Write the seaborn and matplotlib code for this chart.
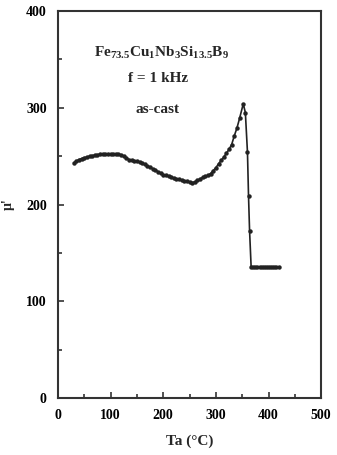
import matplotlib
matplotlib.use("Agg")
import matplotlib.pyplot as plt
import seaborn as sns
import pandas as pd
from matplotlib.ticker import MultipleLocator

sns.set_style("ticks")
plt.rcParams['font.family'] = ['Liberation Serif', 'DejaVu Serif']
plt.rcParams['font.weight'] = 'bold'
plt.rcParams['mathtext.fontset'] = 'custom'
plt.rcParams['mathtext.rm'] = 'Liberation Serif:bold'
plt.rcParams['mathtext.it'] = 'Liberation Serif:bold'
plt.rcParams['mathtext.bf'] = 'Liberation Serif:bold'

temps = [30, 35, 40, 45, 50, 55, 60, 65, 70, 75, 80, 85, 90, 95, 100, 105, 110, 115,
         120, 125, 130, 135, 140, 145, 150, 155, 160, 165, 170, 175, 180, 185, 190, 195,
         200, 205, 210, 215, 220, 225, 230, 235, 240, 245, 250, 255, 260, 265, 270, 275,
         280, 285, 290, 295, 300, 305, 310, 315, 320, 325, 330, 335, 340, 345, 352, 356,
         360, 362, 364, 367, 371, 375, 379, 383, 387, 391, 395, 399, 403, 407, 411, 415, 420]
mu = [243, 245, 246.5, 247.5, 248.5, 249, 250, 250.5, 251, 251.5, 252, 252, 252, 252, 252, 252, 252, 252,
      251.5, 250, 248, 246.5, 245.5, 245, 244.5, 244, 243, 241.5, 240, 238.5, 237, 235.5, 234, 232.5,
      231, 230, 229, 228, 227, 226.5, 226, 225, 224.5, 224, 223, 222.5, 223.5, 225, 226.5, 228,
      229, 230, 232, 235, 238, 242, 245.5, 249, 253, 257, 262, 271, 279, 289, 304, 295,
      254, 209, 173, 135, 135, 135, 135, 135, 135, 135, 135, 135, 135, 135, 135, 135, 135]

df = pd.DataFrame({"Ta": temps, "mu": mu})

fig = plt.figure(figsize=(3.37, 4.55), dpi=100)
ax = fig.add_axes([0.172, 0.125, 0.781, 0.851])
sns.lineplot(data=df, x="Ta", y="mu", ax=ax, color="#222222", lw=1.2,
             marker="o", markersize=3.2, markeredgewidth=0, sort=False)

ax.set_xlim(0, 500)
ax.set_ylim(0, 400)
ax.xaxis.set_major_locator(MultipleLocator(100))
ax.xaxis.set_minor_locator(MultipleLocator(50))
ax.yaxis.set_major_locator(MultipleLocator(100))
ax.yaxis.set_minor_locator(MultipleLocator(50))
ax.tick_params(which='both', direction='in', top=False, right=False, colors='#333333',
               width=1.2, labelsize=10, labelcolor='black')
ax.tick_params(which='major', length=4, pad=8)
ax.tick_params(which='minor', length=3)
for lab in ax.get_xticklabels() + ax.get_yticklabels():
    lab.set_fontweight('bold')
for s in ax.spines.values():
    s.set_linewidth(1.5)
    s.set_color('#333333')

ax.set_xlabel("Ta (°C)", fontsize=11, fontweight='bold', labelpad=9)
ax.set_ylabel("μ'", fontsize=10, fontweight='bold')
ax.yaxis.set_label_coords(-0.165, 0.5)

ax.text(196, 357, r"Fe$_{\mathrm{73.5}}$Cu$_{\mathrm{1}}$Nb$_{\mathrm{3}}$Si$_{\mathrm{13.5}}$B$_{\mathrm{9}}$",
        ha='center', va='center', fontsize=11, fontweight='bold')
ax.text(190, 330.5, "f = 1 kHz", ha='center', va='center', fontsize=11, fontweight='bold')
ax.text(189, 298.5, "as-cast", ha='center', va='center', fontsize=11, fontweight='bold')

fig.savefig("out.png", dpi=100)
